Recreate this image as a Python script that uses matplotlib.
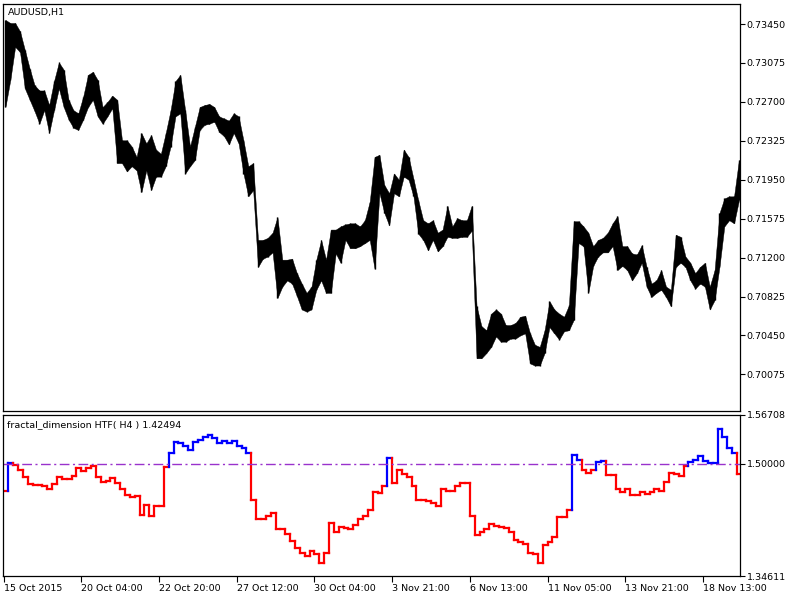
import numpy as np
import matplotlib
matplotlib.use("Agg")
import matplotlib.pyplot as plt
from matplotlib.collections import LineCollection

# AUDUSD H1 chart, sampled per H4 bar (high / low of each 4 hour block)
price_hi = [.7349, .7346, .7346, .7338, .7320, .7302, .7286, .7281, .7281, .7267,
            .7290, .7308, .7301, .7272, .7262, .7259, .7275, .7296, .7299, .7291,
            .7265, .7270, .7276, .7272, .7233, .7233, .7227, .7217, .7240, .7230,
            .7238, .7224, .7220, .7240, .7262, .7290, .7296, .7262, .7227, .7246,
            .7265, .7267, .7268, .7265, .7256, .7254, .7252, .7259, .7256, .7233,
            .7208, .7211, .7137, .7137, .7139, .7144, .7159, .7118, .7118, .7119,
            .7105, .7095, .7086, .7092, .7118, .7137, .7118, .7147, .7147, .7150,
            .7152, .7153, .7153, .7150, .7156, .7174, .7217, .7219, .7190, .7182,
            .7201, .7195, .7224, .7217, .7196, .7175, .7156, .7153, .7156, .7144,
            .7147, .7170, .7150, .7158, .7156, .7156, .7170, .7073, .7054, .7050,
            .7066, .7070, .7066, .7055, .7055, .7057, .7063, .7064, .7047, .7036,
            .7034, .7050, .7078, .7070, .7066, .7063, .7074, .7155, .7155, .7150,
            .7144, .7131, .7137, .7139, .7144, .7153, .7160, .7131, .7131, .7124,
            .7123, .7132, .7111, .7095, .7098, .7108, .7092, .7089, .7142, .7140,
            .7121, .7115, .7105, .7111, .7115, .7092, .7108, .7163, .7177, .7179,
            .7179, .7214]
price_lo = [.7265, .7291, .7323, .7318, .7283, .7272, .7261, .7249, .7262, .7240,
            .7262, .7283, .7265, .7253, .7245, .7243, .7253, .7265, .7272, .7256,
            .7249, .7256, .7264, .7211, .7211, .7203, .7208, .7204, .7183, .7204,
            .7185, .7198, .7198, .7208, .7227, .7256, .7259, .7201, .7208, .7214,
            .7243, .7248, .7249, .7251, .7241, .7237, .7229, .7240, .7230, .7201,
            .7179, .7185, .7111, .7119, .7121, .7125, .7081, .7092, .7098, .7095,
            .7083, .7070, .7068, .7070, .7089, .7098, .7086, .7086, .7124, .7115,
            .7137, .7129, .7129, .7131, .7134, .7137, .7109, .7182, .7163, .7151,
            .7182, .7179, .7198, .7195, .7179, .7143, .7137, .7127, .7137, .7126,
            .7131, .7140, .7139, .7139, .7140, .7140, .7146, .7023, .7023, .7028,
            .7034, .7044, .7039, .7039, .7042, .7042, .7045, .7047, .7018, .7016,
            .7016, .7028, .7053, .7047, .7041, .7049, .7050, .7060, .7134, .7131,
            .7086, .7112, .7121, .7125, .7125, .7131, .7108, .7112, .7108, .7098,
            .7105, .7115, .7092, .7082, .7086, .7089, .7082, .7073, .7111, .7115,
            .7111, .7098, .7090, .7095, .7092, .7070, .7079, .7111, .7150, .7156,
            .7153, .7175]

# fractal dimension indicator, one value per H4 bar
fd_vals = [1.463, 1.501, 1.499, 1.491, 1.482, 1.473, 1.471, 1.471, 1.469, 1.466,
           1.472, 1.482, 1.479, 1.479, 1.484, 1.494, 1.490, 1.494, 1.497, 1.482,
           1.475, 1.477, 1.481, 1.474, 1.466, 1.457, 1.454, 1.456, 1.430, 1.444,
           1.428, 1.442, 1.442, 1.496, 1.515, 1.530, 1.528, 1.525, 1.519, 1.530,
           1.533, 1.537, 1.540, 1.535, 1.528, 1.532, 1.529, 1.532, 1.525, 1.522,
           1.515, 1.451, 1.425, 1.425, 1.428, 1.433, 1.411, 1.410, 1.404, 1.394,
           1.384, 1.377, 1.374, 1.380, 1.376, 1.364, 1.378, 1.419, 1.407, 1.414,
           1.412, 1.410, 1.416, 1.425, 1.428, 1.437, 1.461, 1.460, 1.469, 1.508,
           1.474, 1.492, 1.486, 1.482, 1.470, 1.451, 1.450, 1.449, 1.446, 1.442,
           1.465, 1.463, 1.463, 1.470, 1.474, 1.474, 1.429, 1.402, 1.406, 1.411,
           1.418, 1.415, 1.413, 1.412, 1.407, 1.396, 1.393, 1.390, 1.378, 1.376,
           1.364, 1.388, 1.393, 1.400, 1.427, 1.427, 1.437, 1.512, 1.505, 1.492,
           1.488, 1.491, 1.502, 1.504, 1.485, 1.485, 1.465, 1.462, 1.465, 1.457,
           1.457, 1.461, 1.459, 1.462, 1.465, 1.463, 1.475, 1.488, 1.486, 1.483,
           1.497, 1.502, 1.506, 1.511, 1.504, 1.501, 1.501, 1.548, 1.537, 1.522,
           1.515, 1.486]
fd_level = 1.5

price_ticks = [0.73450, 0.73075, 0.72700, 0.72325, 0.71950,
               0.71575, 0.71200, 0.70825, 0.70450, 0.70075]
fd_ticks = [1.34611, 1.50000, 1.56708]
date_ticks = [0, 64, 128, 192, 256, 320, 384, 448, 512, 576]  # H1 bar index
date_labels = ['15 Oct 2015', '20 Oct 04:00', '22 Oct 20:00', '27 Oct 12:00',
               '30 Oct 04:00', '3 Nov 21:00', '6 Nov 13:00', '11 Nov 05:00',
               '13 Nov 21:00', '18 Nov 13:00']

plt.rcParams['font.family'] = 'DejaVu Sans'
fs = 6.8

fig = plt.figure(figsize=(8, 6), dpi=100)
L = 3/800.
W = (739.5-3)/800.
ax1 = fig.add_axes([L, 1-411/600., W, 407/600.])
ax2 = fig.add_axes([L, 1-576/600., W, 161/600.])

n = len(fd_vals)
xc = np.arange(len(price_hi))*4 + 1.5

# price panel: high-low range of every H4 block
ax1.fill_between(xc, price_lo, price_hi, color='black', lw=0.3)
ax1.vlines(xc, price_lo, price_hi, color='black', lw=1.0)
ax1.set_ylim(0.69722, 0.73643)
ax1.set_xlim(-0.5, 606)
ax1.set_xticks([])
ax1.yaxis.tick_right()
ax1.set_yticks(price_ticks)
ax1.set_yticklabels(['%.5f' % t for t in price_ticks])
ax1.tick_params(axis='y', direction='out', length=3.5, width=0.8, pad=1.5, labelsize=fs)

# indicator panel: step line, blue when above 1.5
segs, cols = [], []
for k in range(n):
    x0, x1 = 4*k, 4*k + 4
    c = '#0000ff' if fd_vals[k] > fd_level else '#ff0000'
    if k > 0:
        segs.append([(x0, fd_vals[k-1]), (x0, fd_vals[k])])
        cols.append(c)
    segs.append([(x0, fd_vals[k]), (x1, fd_vals[k])])
    cols.append(c)
lc = LineCollection(segs, colors=cols, linewidths=1.6, capstyle='projecting')
ax2.add_collection(lc)
ax2.axhline(fd_level, color='#9932cc', lw=1.0, linestyle=(0, (7, 2.5, 1.5, 2.5)))
ax2.set_xlim(-0.5, 606)
ax2.set_ylim(1.34611, 1.56708)
ax2.yaxis.tick_right()
ax2.set_yticks(fd_ticks)
ax2.set_yticklabels(['%.5f' % t for t in fd_ticks])
ax2.tick_params(axis='y', direction='out', length=3.5, width=0.8, pad=1.5, labelsize=fs)
ax2.set_xticks(date_ticks)
ax2.set_xticklabels(date_labels, ha='left')
ax2.tick_params(axis='x', direction='out', length=4, width=0.8, pad=2, labelsize=fs)

for ax in (ax1, ax2):
    for s in ax.spines.values():
        s.set_linewidth(0.9)

fig.text(8/800., 1-12/600., 'AUDUSD,H1', fontsize=fs, va='center', ha='left')
fig.text(7/800., 1-425/600., 'fractal_dimension HTF( H4 ) 1.42494', fontsize=fs,
         va='center', ha='left')

fig.savefig('out.png', dpi=100)
